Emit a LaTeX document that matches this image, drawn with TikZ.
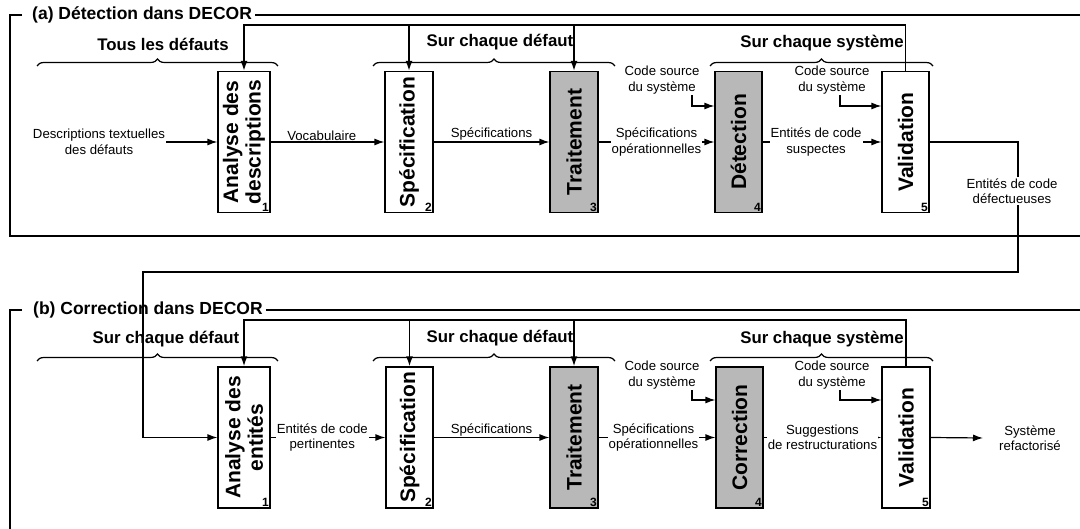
\documentclass[tikz,border=0pt]{standalone}
\usepackage{fontspec}
\setmainfont{Liberation Sans}
\usetikzlibrary{arrows.meta,decorations.pathreplacing}
\begin{document}
\begin{tikzpicture}[x=1pt,y=-1pt,
  procbox/.style={draw,line width=1.2pt,minimum width=48pt,minimum height=141pt,inner sep=0pt},
  shadedbox/.style={procbox,fill=black!28},
  boxtxt/.style={font=\fontsize{21}{22.5}\selectfont\bfseries,rotate=90,align=center,inner sep=0pt},
  numtxt/.style={font=\fontsize{12}{13}\selectfont\bfseries,anchor=south east,inner sep=1.5pt},
  lbl/.style={font=\fontsize{13.2}{15.5}\selectfont,align=center,inner sep=1pt},
  lblw/.style={lbl,fill=white},
  brlbl/.style={font=\fontsize{16.8}{18}\selectfont\bfseries,inner sep=0pt},
  ttl/.style={font=\fontsize{17.5}{19}\selectfont\bfseries,inner sep=0pt,anchor=west},
  arr/.style={line width=1.2pt,-{Latex[length=10pt,width=7pt]}},
  fbarr/.style={line width=1.6pt,-{Latex[length=10pt,width=7pt]}},
  frm/.style={line width=1.6pt},
  brc/.style={line width=1.2pt,decorate,decoration={brace,amplitude=7pt}}
]
\useasboundingbox (0,0) rectangle (1080,529);

% ---------- (a) frame ----------
\node[ttl] (ta) at (32,15) {(a) Détection dans DECOR};
\draw[frm] (22,15) -- (10,15) -- (10,236) -- (1080,236);
\draw[frm] ([xshift=3pt]ta.east) -- (1080,15);

% ---------- (a) boxes ----------
\node[procbox,minimum width=52pt] (a1) at (244,142) {};
\node[boxtxt] at (a1.center) {Analyse des\\descriptions};
\node[numtxt] at (a1.south east) {1};
\node[procbox] (a2) at (409,142) {};
\node[boxtxt] at (a2.center) {Spécification};
\node[numtxt] at (a2.south east) {2};
\node[shadedbox] (a3) at (574,142) {};
\node[boxtxt] at (a3.center) {Traitement};
\node[numtxt] at (a3.south east) {3};
\node[shadedbox,minimum width=47pt] (a4) at (738.5,142) {};
\node[boxtxt] at (a4.center) {Détection};
\node[numtxt] at (a4.south east) {4};
\node[procbox,minimum width=47pt] (a5) at (905.5,142) {};
\node[boxtxt] at (a5.center) {Validation};
\node[numtxt] at (a5.south east) {5};

% ---------- (a) braces ----------
\node[brlbl] (ba1) at (163,44) {Tous les défauts};
\node[brlbl] (ba2) at (500,42) {Sur chaque défaut};
\node[brlbl] (ba3) at (822,43) {Sur chaque système};
\draw[brc] (37,66) -- (278,66);
\draw[brc] (373,66) -- (615,66);
\draw[brc] (710,66) -- (933,66);

% ---------- (a) feedback ----------
\coordinate (fa) at (0,25);
\draw[fbarr] (a5.north) |- (a1.north |- fa) -- (a1.north);
\draw[fbarr] (a2.north |- fa) -- (a2.north);
\draw[fbarr] (a3.north |- fa) -- (a3.north);

% ---------- (a) flow ----------
\node[lbl] (desc) at (99,142) {Descriptions textuelles\\des défauts};
\draw[arr] (desc.east) -- (a1.west);
\draw[arr] (a1.east) -- node[lbl,above,pos=0.45] {Vocabulaire} (a2.west);
\draw[arr] (a2.east) -- node[lbl,above] {Spécifications} (a3.west);
\draw[arr] (a3.east) -- node[lblw] {Spécifications\\opérationnelles} (a4.west);
\draw[arr] (a4.east) -- node[lblw,pos=0.45] {Entités de code\\suspectes} (a5.west);

\coordinate (ya) at (0,106);
\node[lbl] (csa1) at (662,80) {Code source\\du système};
\draw[arr] ([xshift=30pt]csa1.south) |- (a4.west |- ya);
\node[lbl] (csa2) at (832,80) {Code source\\du système};
\draw[arr] ([xshift=8pt]csa2.south) |- (a5.west |- ya);

% ---------- (b) frame ----------
\node[ttl] (tb) at (33,310) {(b) Correction dans DECOR};
\draw[frm] (22,310) -- (10,310) -- (10,529);
\draw[frm] ([xshift=3pt]tb.east) -- (1080,310);

% ---------- (b) boxes ----------
\node[procbox,minimum width=52pt] (b1) at (244,437.5) {};
\node[boxtxt] at (b1.center) {Analyse des\\entités};
\node[numtxt] at (b1.south east) {1};
\node[procbox,minimum width=47pt] (b2) at (409.5,437.5) {};
\node[boxtxt] at (b2.center) {Spécification};
\node[numtxt] at (b2.south east) {2};
\node[shadedbox] (b3) at (574,437.5) {};
\node[boxtxt] at (b3.center) {Traitement};
\node[numtxt] at (b3.south east) {3};
\node[shadedbox,minimum width=47pt] (b4) at (739.5,437.5) {};
\node[boxtxt] at (b4.center) {Correction};
\node[numtxt] at (b4.south east) {4};
\node[procbox] (b5) at (906,437.5) {};
\node[boxtxt] at (b5.center) {Validation};
\node[numtxt] at (b5.south east) {5};

% ---------- (b) braces ----------
\node[brlbl] (bb1) at (166,339) {Sur chaque défaut};
\node[brlbl] (bb2) at (500,338) {Sur chaque défaut};
\node[brlbl] (bb3) at (822,339) {Sur chaque système};
\draw[brc] (37,361) -- (278,361);
\draw[brc] (373,361) -- (615,361);
\draw[brc] (710,361) -- (933,361);

% ---------- (b) feedback ----------
\coordinate (fb) at (0,320);
\draw[fbarr] (b5.north) |- (b1.north |- fb) -- (b1.north);
\draw[fbarr] (b2.north |- fb) -- (b2.north);
\draw[fbarr] (b3.north |- fb) -- (b3.north);

% ---------- (b) flow ----------
\draw[arr] (b1.east) -- node[lblw,pos=0.45] {Entités de code\\pertinentes} (b2.west);
\draw[arr] (b2.east) -- node[lbl,above] {Spécifications} (b3.west);
\draw[arr] (b3.east) -- node[lblw,pos=0.47] {Spécifications\\opérationnelles} (b4.west);
\draw[arr] (b4.east) -- node[lblw] {Suggestions\\de restructurations} (b5.west);
\node[lbl] (sr) at (1030,438) {Système\\refactorisé};
\draw[arr] (b5.east) -- ([xshift=-15pt]sr.west);

\coordinate (yb) at (0,400);
\node[lbl] (csb1) at (662,375) {Code source\\du système};
\draw[arr] ([xshift=30pt]csb1.south) |- (b4.west |- yb);
\node[lbl] (csb2) at (832,375) {Code source\\du système};
\draw[arr] ([xshift=8pt]csb2.south) |- (b5.west |- yb);

% ---------- link (a) -> (b) ----------
\coordinate (r1) at (1018,272);
\coordinate (l1) at (143,272);
\draw[arr] (a5.east) -| (r1) -- (l1) |- (b1.west);
\node[lblw] (edef) at (1012,191) {Entités de code\\défectueuses};
\end{tikzpicture}
\end{document}
